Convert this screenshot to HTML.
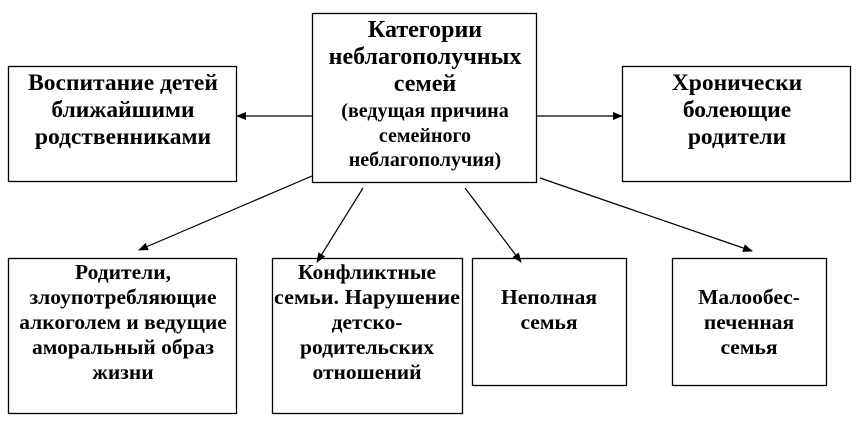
<!DOCTYPE html>
<html><head><meta charset="utf-8"><style>
html,body{margin:0;padding:0;background:#fff;}
svg text{font-family:"Liberation Serif",serif;font-weight:bold;fill:#000;text-anchor:middle;dominant-baseline:central;}
</style></head><body>
<svg width="860" height="420" viewBox="0 0 860 420" xmlns="http://www.w3.org/2000/svg">
<defs><marker id="a" markerWidth="10" markerHeight="8" refX="9" refY="4" orient="auto" markerUnits="userSpaceOnUse"><path d="M0,0 L10,4 L0,8 z" fill="#000"/></marker></defs>
<g fill="#fff" stroke="#000" stroke-width="1.3">
<rect x="8.5" y="66.5" width="228" height="115"/>
<rect x="312.5" y="13.5" width="224" height="169"/>
<rect x="622.5" y="66.5" width="228" height="115"/>
<rect x="8.5" y="258.5" width="228" height="155"/>
<rect x="272.5" y="258.5" width="190" height="155"/>
<rect x="472.5" y="258.5" width="154" height="127"/>
<rect x="672.5" y="258.5" width="154" height="127"/>
</g>
<g stroke="#000" stroke-width="1.2" marker-end="url(#a)">
<line x1="312" y1="116" x2="237" y2="116"/>
<line x1="537" y1="116" x2="622" y2="116"/>
<line x1="312" y1="176" x2="139" y2="250"/>
<line x1="363" y1="188" x2="317" y2="262"/>
<line x1="465" y1="188" x2="521" y2="262"/>
<line x1="540" y1="178" x2="752" y2="251"/>
</g>
<g font-size="24">
<text x="425" y="30">Категории</text>
<text x="425" y="57">неблагополучных</text>
<text x="425" y="84">семей</text>
</g>
<g font-size="20">
<text x="425" y="111">(ведущая причина</text>
<text x="425" y="136">семейного</text>
<text x="425" y="160">неблагополучия)</text>
</g>
<g font-size="23.5">
<text x="123" y="83">Воспитание детей</text>
<text x="123" y="110">ближайшими</text>
<text x="123" y="137">родственниками</text>
<text x="737" y="83">Хронически</text>
<text x="737" y="110">болеющие</text>
<text x="737" y="137">родители</text>
</g>
<g font-size="21.5">
<text x="123" y="272">Родители,</text>
<text x="123" y="297">злоупотребляющие</text>
<text x="123" y="322">алкоголем и ведущие</text>
<text x="123" y="347">аморальный образ</text>
<text x="123" y="372">жизни</text>
<text x="367" y="272">Конфликтные</text>
<text x="367" y="297" textLength="186" lengthAdjust="spacingAndGlyphs">семьи. Нарушение</text>
<text x="367" y="322">детско-</text>
<text x="367" y="347">родительских</text>
<text x="367" y="372">отношений</text>
<text x="549" y="297">Неполная</text>
<text x="549" y="322">семья</text>
<text x="749" y="297">Малообес-</text>
<text x="749" y="322">печенная</text>
<text x="749" y="347">семья</text>
</g>
</svg>
</body></html>
